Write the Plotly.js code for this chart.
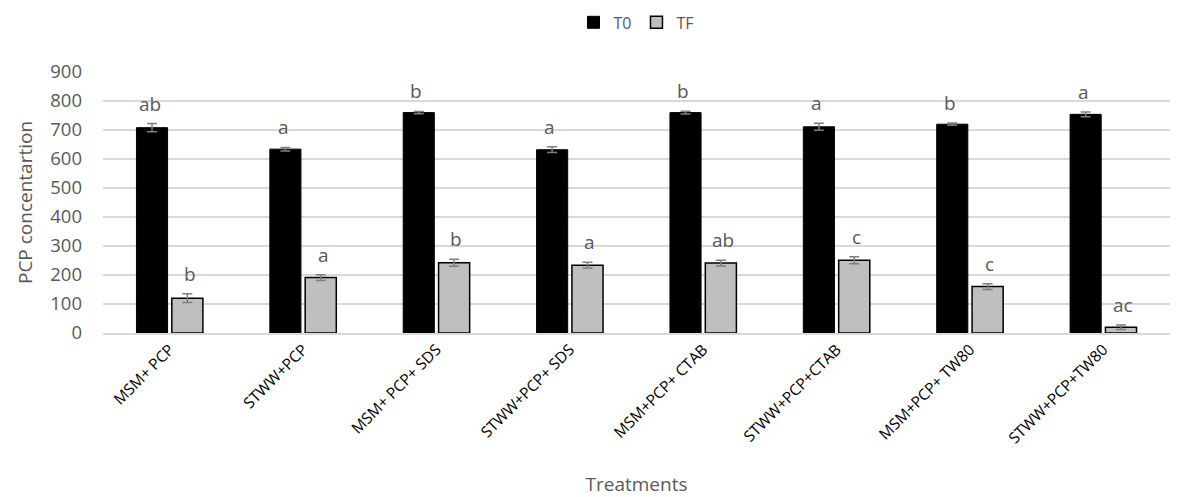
<!DOCTYPE html>
<html>
<head>
<meta charset="utf-8">
<script src="https://cdn.plot.ly/plotly-3.0.1.min.js"></script>
<style>html,body{margin:0;padding:0;background:#fff}#chart{width:1195px;height:497px}</style>
</head>
<body>
<div id="chart"></div>
<script>
const categories = ["MSM+ PCP","STWW+PCP","MSM+ PCP+ SDS","STWW+PCP+ SDS","MSM+PCP+ CTAB","STWW+PCP+CTAB","MSM+PCP+ TW80","STWW+PCP+TW80"];
const t0Values = [708, 634, 760, 632, 760, 711, 720, 754];
const t0Errors = [14, 6, 4, 10, 5, 12, 4, 8];
const tfValues = [120, 191, 242, 234, 241, 251, 160, 20];
const tfErrors = [15, 10, 12, 10, 10, 12, 10, 8];
const t0Letters = ["ab","a","b","a","b","a","b","a"];
const tfLetters = ["b","a","b","a","ab","c","c","ac"];

const FONT = "Open Sans, Noto Sans, sans-serif";
const GRAY = "#595959";

const traces = [
  {type:"bar", name:"T0", x:categories, y:t0Values,
   marker:{color:"#000000", line:{color:"#000000", width:1}},
   error_y:{type:"data", array:t0Errors, visible:true, color:"#7f7f7f", thickness:1.5, width:5}},
  {type:"bar", name:"TF", x:categories, y:tfValues,
   marker:{color:"#bfbfbf", line:{color:"#000000", width:1.5}},
   error_y:{type:"data", array:tfErrors, visible:true, color:"#7f7f7f", thickness:1.5, width:5}}
];

const annotations = [];
categories.forEach((c,i)=>{
  annotations.push({x:c, y:t0Values[i]+t0Errors[i], xref:"x", yref:"y", text:t0Letters[i],
    showarrow:false, xshift:-20, yshift:5, yanchor:"bottom", font:{family:FONT, size:19, color:GRAY}});
  annotations.push({x:c, y:tfValues[i]+tfErrors[i], xref:"x", yref:"y", text:tfLetters[i],
    showarrow:false, xshift:20, yshift:5, yanchor:"bottom", font:{family:FONT, size:19, color:GRAY}});
});

const layout = {
  width:1195, height:497,
  margin:{l:103, r:25, t:72, b:164, autoexpand:false},
  paper_bgcolor:"#ffffff", plot_bgcolor:"#ffffff",
  barmode:"group", bargap:0.47, bargroupgap:0.12,
  font:{family:FONT, color:GRAY},
  showlegend:true,
  legend:{orientation:"h", x:0.5, xanchor:"center", y:1.19, yanchor:"middle",
    font:{family:FONT, size:16, color:GRAY}, itemwidth:30, traceorder:"normal"},
  xaxis:{type:"category", tickangle:-45, tickfont:{family:FONT, size:15.5, color:"#000000"},
    showline:true, linecolor:"#d9d9d9", linewidth:1.5, ticks:"", showgrid:false, automargin:false,
    title:{text:"Treatments", font:{family:FONT, size:19, color:GRAY}, standoff:34}},
  yaxis:{range:[0,900], dtick:100, tickfont:{family:FONT, size:18.5, color:GRAY},
    showgrid:true, gridcolor:"#d9d9d9", gridwidth:1.5, zeroline:false, showline:false, ticks:"",
    ticklen:0, ticklabelstandoff:20, automargin:false,
    title:{text:"PCP concentartion", font:{family:FONT, size:19, color:GRAY}, standoff:12}},
  annotations:annotations
};

Plotly.newPlot("chart", traces, layout, {displayModeBar:false, staticPlot:true});
</script>
</body>
</html>
